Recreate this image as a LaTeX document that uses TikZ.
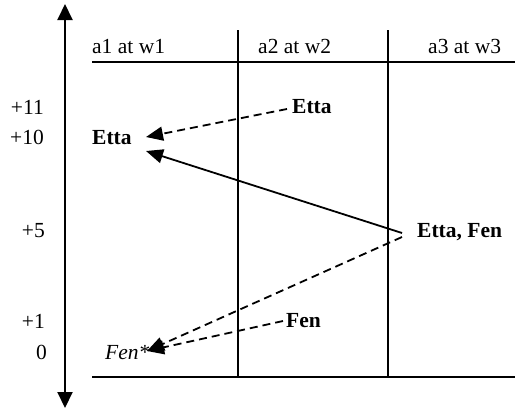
\documentclass[tikz,border=0pt]{standalone}
\usepackage{fontspec}
\setmainfont{Liberation Serif}
\usetikzlibrary{arrows.meta}
\begin{document}
\begin{tikzpicture}[x=1pt,y=-1pt,
  txt/.style={inner sep=0pt,font=\fontsize{21.5}{24}\selectfont},
  lbl/.style={txt,anchor=base east},
  hd/.style={txt,anchor=base west},
  ev/.style={txt,anchor=base west,font=\fontsize{21.5}{24}\selectfont\bfseries},
  rule/.style={line width=1.8pt},
  arr/.style={line width=1.8pt,-{Triangle[length=17pt,width=14pt]}},
  darr/.style={arr,dash pattern=on 8pt off 5pt}]
\useasboundingbox (0,0) rectangle (521,410);
% time axis
\coordinate (axtop) at (65,4);
\coordinate (axbot) at (65,408);
\draw[line width=2pt,{Triangle[length=16pt,width=15pt]}-{Triangle[length=16pt,width=15pt]}] (axtop) -- (axbot);
% grid
\coordinate (tl) at (92,62);
\coordinate (tr) at (515,62);
\coordinate (bl) at (92,377);
\coordinate (br) at (515,377);
\coordinate (v1t) at (238,30);
\coordinate (v1b) at (238,377);
\coordinate (v2t) at (388,30);
\coordinate (v2b) at (388,377);
\draw[rule] (tl) -- (tr);
\draw[rule] (bl) -- (br);
\draw[rule] (v1t) -- (v1b);
\draw[rule] (v2t) -- (v2b);
% headers
\node[hd] (h1) at (92,53) {a1 at w1};
\node[hd] (h2) at (258,53) {a2 at w2};
\node[hd] (h3) at (428,53) {a3 at w3};
% time labels
\node[lbl] (t11) at (44,114) {+11};
\node[lbl] (t10) at (44,144) {+10};
\node[lbl] (t5) at (45,237) {+5};
\node[lbl] (t1) at (45,328) {+1};
\node[lbl] (t0) at (47,359) {0};
% events
\node[ev] (ettaL) at (92,144) {Etta};
\node[ev] (ettaU) at (292,113) {Etta};
\node[ev] (ef) at (417,237) {Etta, Fen};
\node[ev] (fen) at (286,327) {Fen};
\node[hd] (fenS) at (105,359) {\itshape Fen*};
% arrow end points
\coordinate (ettaUs) at (287,109);
\coordinate (ettaLt1) at (146,137);
\coordinate (ettaLt2) at (146,151);
\coordinate (efs1) at (402,233);
\coordinate (efs2) at (402,237);
\coordinate (fens) at (283,321);
\coordinate (fenSt) at (147,351);
\draw[darr] (ettaUs) -- (ettaLt1);
\draw[arr] (efs1) -- (ettaLt2);
\draw[darr] (efs2) -- (fenSt);
\draw[darr] (fens) -- (fenSt);
\end{tikzpicture}
\end{document}
